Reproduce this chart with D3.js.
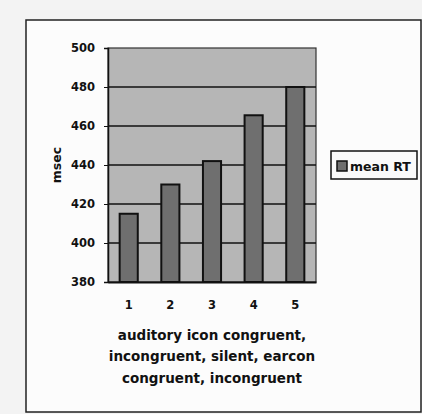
<!DOCTYPE html>
<html><head><meta charset="utf-8">
<script src="https://cdn.jsdelivr.net/npm/d3@7"></script>
<style>html,body{margin:0;padding:0;background:#fff;}svg{display:block;}</style>
</head><body><svg id="c" width="422" height="414"></svg>
<script>
const categories = ["1","2","3","4","5"];
const meanRT = [415, 430, 442, 465.5, 480];
const yTicks = [380, 400, 420, 440, 460, 480, 500];
const seriesName = "mean RT";
const yTitle = "msec";
const xTitleLines = ["auditory icon congruent,", "incongruent, silent, earcon", "congruent, incongruent"];

const svg = d3.select("#c");
const font = "'DejaVu Sans', Verdana, sans-serif";

// page background
svg.append("rect").attr("x",0).attr("y",0).attr("width",422).attr("height",414).attr("fill","#f3f3f3");
svg.append("rect").attr("x",26).attr("y",20).attr("width",395).attr("height",392)
  .attr("fill","#fcfcfc").attr("stroke","#222").attr("stroke-width",1.5);

const m = {left:108, right:316, top:48, bottom:282};
const x = d3.scaleBand().domain(categories).range([m.left, m.right]).paddingInner(0.565).paddingOuter(0.28);
const y = d3.scaleLinear().domain([380, 500]).range([m.bottom, m.top]);

// plot area
svg.append("rect").attr("x",m.left).attr("y",m.top).attr("width",m.right-m.left).attr("height",m.bottom-m.top)
  .attr("fill","#b6b6b6").attr("stroke","#333").attr("stroke-width",1.2);

// gridlines
svg.append("g").selectAll("line").data(yTicks.filter(t=>t>380 && t<500)).join("line")
  .attr("x1",m.left).attr("x2",m.right).attr("y1",d=>y(d)).attr("y2",d=>y(d))
  .attr("stroke","#111").attr("stroke-width",1.6);

// bars
svg.append("g").selectAll("rect").data(meanRT).join("rect")
  .attr("x",(d,i)=>x(categories[i]))
  .attr("y",d=>y(d))
  .attr("width",x.bandwidth())
  .attr("height",d=>y(380)-y(d))
  .attr("fill","#6f6f6f").attr("stroke","#111").attr("stroke-width",2);

// y axis
const yAxis = svg.append("g").attr("transform",`translate(${m.left},0)`)
  .call(d3.axisLeft(y).tickValues(yTicks).tickSize(4).tickPadding(9).tickFormat(d3.format("d")));
yAxis.select(".domain").attr("stroke","#111").attr("stroke-width",1.5);
yAxis.selectAll(".tick line").attr("stroke","#111");
yAxis.selectAll("text").attr("font-family",font).attr("font-weight","bold").attr("font-size",11.5).attr("fill","#111");

// x axis
const xAxis = svg.append("g").attr("transform",`translate(0,${m.bottom})`)
  .call(d3.axisBottom(x).tickSize(0).tickPadding(19));
xAxis.select(".domain").attr("stroke","#111").attr("stroke-width",2);
xAxis.selectAll("text").attr("font-family",font).attr("font-weight","bold").attr("font-size",11.5).attr("fill","#111");

// y title
svg.append("text").attr("transform",`translate(61,${(m.top+m.bottom)/2}) rotate(-90)`)
  .attr("text-anchor","middle").attr("font-family",font).attr("font-weight","bold").attr("font-size",12.5)
  .attr("fill","#111").text(yTitle);

// x title
svg.append("g").selectAll("text").data(xTitleLines).join("text")
  .attr("x",(m.left+m.right)/2).attr("y",(d,i)=>339.5+i*21.5)
  .attr("text-anchor","middle").attr("font-family",font).attr("font-weight","bold").attr("font-size",13.5)
  .attr("fill","#111").text(d=>d);

// legend
const lg = svg.append("g");
lg.append("rect").attr("x",331).attr("y",151).attr("width",86).attr("height",28)
  .attr("fill","#fafafa").attr("stroke","#111").attr("stroke-width",1.5);
lg.append("rect").attr("x",337).attr("y",161).attr("width",10).attr("height",10)
  .attr("fill","#6f6f6f").attr("stroke","#111").attr("stroke-width",1.5);
lg.append("text").attr("x",350).attr("y",170.5).attr("font-family",font).attr("font-weight","bold")
  .attr("font-size",12.5).attr("fill","#111").text(seriesName);
</script></body></html>
